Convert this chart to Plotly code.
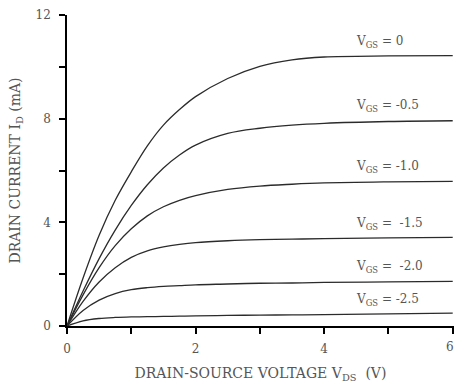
import plotly.graph_objects as go

vds = [0, 0.25, 0.5, 0.75, 1.0, 1.25, 1.5, 1.75, 2.0, 2.5, 3.0, 3.5, 4.0, 5.0, 6.0]
id_vgs_0 = [0, 1.85, 3.5, 4.85, 5.95, 6.95, 7.75, 8.35, 8.85, 9.55, 10.02, 10.27, 10.38, 10.42, 10.43]
id_vgs_m05 = [0, 1.35, 2.6, 3.7, 4.65, 5.45, 6.1, 6.6, 6.98, 7.43, 7.63, 7.75, 7.82, 7.89, 7.92]
id_vgs_m10 = [0, 1.2, 2.25, 3.1, 3.75, 4.25, 4.6, 4.85, 5.03, 5.27, 5.4, 5.47, 5.52, 5.56, 5.58]
id_vgs_m15 = [0, 0.95, 1.7, 2.25, 2.65, 2.9, 3.05, 3.15, 3.22, 3.29, 3.33, 3.35, 3.37, 3.4, 3.42]
id_vgs_m20 = [0, 0.6, 1.0, 1.25, 1.4, 1.48, 1.53, 1.56, 1.59, 1.62, 1.65, 1.66, 1.68, 1.7, 1.72]
id_vgs_m25 = [0, 0.2, 0.29, 0.33, 0.35, 0.36, 0.37, 0.38, 0.39, 0.41, 0.42, 0.43, 0.44, 0.47, 0.5]

series = [id_vgs_0, id_vgs_m05, id_vgs_m10, id_vgs_m15, id_vgs_m20, id_vgs_m25]
labels = ["V<sub>GS</sub> = 0", "V<sub>GS</sub> = -0.5", "V<sub>GS</sub> = -1.0",
          "V<sub>GS</sub> =  -1.5", "V<sub>GS</sub> =  -2.0", "V<sub>GS</sub> = -2.5"]
label_x = 4.47
label_y = [10.95, 8.5, 6.15, 3.92, 2.27, 1.0]

x_tickvals = [0, 1, 2, 3, 4, 5, 6]
x_ticktext = ["0", "", "2", "", "4", "", "6"]
y_tickvals = [0, 2, 4, 6, 8, 10, 12]
y_ticktext = ["0", "", "4", "", "8", "", "12"]

FONT = "DejaVu Serif"
TXT = "#555555"

fig = go.Figure()
for s in series:
    fig.add_trace(go.Scatter(x=vds, y=s, mode="lines",
                             line=dict(color="#2b2b2b", width=1.3, shape="spline", smoothing=1.0),
                             showlegend=False, hoverinfo="skip", cliponaxis=False))

for t, yv in zip(labels, label_y):
    fig.add_annotation(x=label_x, y=yv, text=t, showarrow=False, xanchor="left", yanchor="middle",
                       font=dict(family=FONT, size=12, color=TXT))

# edge tick label that plotly drops because it would overflow the page
fig.add_annotation(x=x_tickvals[-1], y=0, text=x_ticktext[-1], showarrow=False,
                   xanchor="right", yanchor="top", yshift=-12, xshift=3,
                   font=dict(family=FONT, size=12, color=TXT))

fig.update_layout(
    width=454, height=383,
    margin=dict(l=67, r=0, t=15, b=57, autoexpand=False),
    paper_bgcolor="white", plot_bgcolor="white",
    font=dict(family=FONT, size=12, color=TXT),
)
fig.update_xaxes(range=[0, 6.02], tickvals=x_tickvals, ticktext=x_ticktext,
                 showgrid=False, zeroline=False, showline=True, linecolor="black", linewidth=1.5,
                 ticks="outside", ticklen=6, tickwidth=1.5, tickcolor="black",
                 ticklabelstandoff=5, automargin=False,
                 tickfont=dict(family=FONT, size=12, color=TXT),
                 title=dict(text="DRAIN-SOURCE VOLTAGE V<sub>DS</sub>  (V)", standoff=14,
                            font=dict(family=FONT, size=14, color=TXT)))
fig.update_yaxes(range=[0, 12], tickvals=y_tickvals, ticktext=y_ticktext,
                 showgrid=False, zeroline=False, showline=True, linecolor="black", linewidth=1.5,
                 ticks="outside", ticklen=6, tickwidth=1.5, tickcolor="black",
                 ticklabelstandoff=6, automargin=False,
                 tickfont=dict(family=FONT, size=12, color=TXT),
                 title=dict(text="DRAIN CURRENT I<sub>D</sub> (mA)", standoff=12,
                            font=dict(family=FONT, size=14, color=TXT)))

fig.write_html("out.html")
